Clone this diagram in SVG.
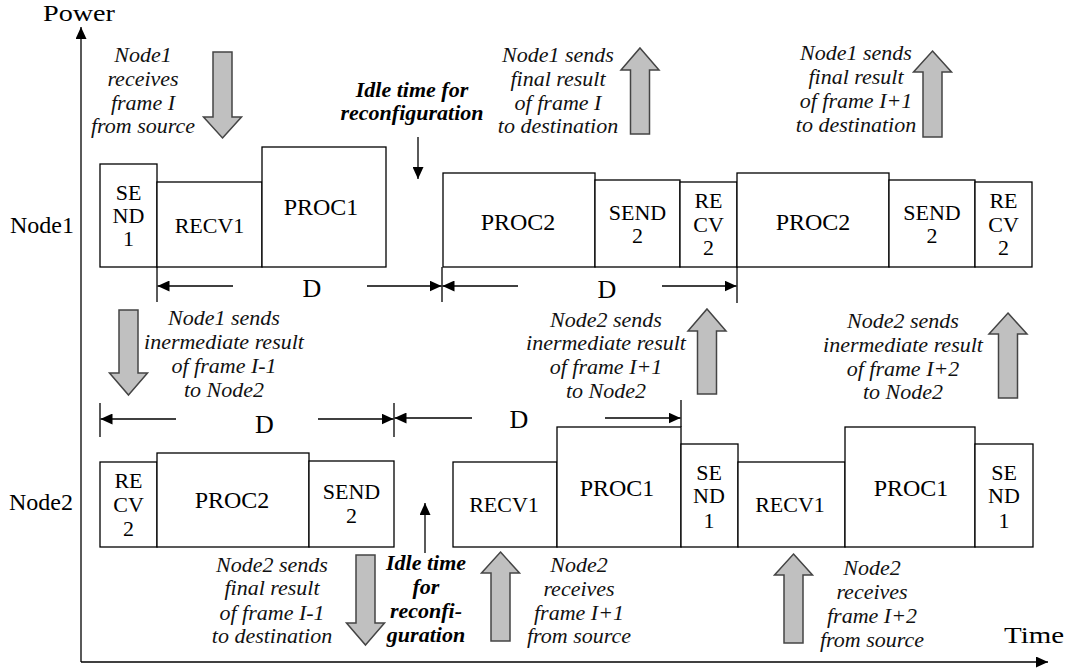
<svg xmlns="http://www.w3.org/2000/svg" width="1067" height="670" viewBox="0 0 1067 670">
<style>
  .bg{fill:#fff}
  .box{fill:#fff;stroke:#000;stroke-width:1.3}
  .t{font-family:"Liberation Serif","Times New Roman",serif;font-size:22px;fill:#000;text-anchor:middle}
  .tp{font-family:"Liberation Serif","Times New Roman",serif;font-size:24px;fill:#000;text-anchor:middle}
  .ax{font-family:"Liberation Serif","Times New Roman",serif;font-size:24px;fill:#000}
  .d{font-family:"Liberation Serif","Times New Roman",serif;font-size:26px;fill:#000;text-anchor:middle}
  .it{font-family:"Liberation Serif","Times New Roman",serif;font-size:22px;font-style:italic;fill:#111;text-anchor:middle}
  .bi{font-family:"Liberation Serif","Times New Roman",serif;font-size:22px;font-style:italic;font-weight:bold;fill:#000;text-anchor:middle}
  .ln{stroke:#000;stroke-width:1.3;fill:none}
  .arr{stroke:#000;stroke-width:1.3;fill:none;marker-end:url(#ah)}
  .blk{fill:#c0c0c0;stroke:#444;stroke-width:1.5;stroke-linejoin:miter}
</style>
<defs>
  <marker id="ah" markerUnits="userSpaceOnUse" markerWidth="12" markerHeight="11" refX="12" refY="5.5" orient="auto">
    <path d="M0,0 L12,5.5 L0,11 Z" fill="#000"/>
  </marker>
</defs>
<rect class="bg" x="0" y="0" width="1067" height="670"/>

<g id="axes">
  <line class="arr" x1="81" y1="662" x2="81" y2="27"/>
  <line class="arr" x1="81" y1="662" x2="1048" y2="662"/>
  <text class="ax" x="43" y="21" textLength="72" lengthAdjust="spacingAndGlyphs">Power</text>
  <text class="ax" x="1004" y="643" font-size="23" textLength="60" lengthAdjust="spacingAndGlyphs">Time</text>
  <text class="ax" x="10" y="233">Node1</text>
  <text class="ax" x="9" y="510">Node2</text>
</g>

<!-- Node1 row -->
<g id="n1-send1"><rect class="box" x="100" y="164" width="57" height="103"/>
  <text class="t" x="128.5" y="200">SE</text><text class="t" x="128.5" y="223">ND</text><text class="t" x="128.5" y="246">1</text></g>
<g id="n1-recv1"><rect class="box" x="157" y="182" width="105" height="85"/>
  <text class="t" x="209.5" y="233">RECV1</text></g>
<g id="n1-proc1"><rect class="box" x="262" y="147" width="124" height="120"/>
  <text class="tp" x="321" y="215">PROC1</text></g>
<g id="n1-proc2a"><rect class="box" x="443" y="173" width="152" height="94"/>
  <text class="tp" x="518" y="230">PROC2</text></g>
<g id="n1-send2a"><rect class="box" x="595" y="180" width="85" height="87"/>
  <text class="t" x="637.5" y="220">SEND</text><text class="t" x="637.5" y="243">2</text></g>
<g id="n1-recv2a"><rect class="box" x="680" y="182" width="57" height="85"/>
  <text class="t" x="708.5" y="208">RE</text><text class="t" x="708.5" y="232">CV</text><text class="t" x="708.5" y="255">2</text></g>
<g id="n1-proc2b"><rect class="box" x="737" y="173" width="152" height="94"/>
  <text class="tp" x="813" y="230">PROC2</text></g>
<g id="n1-send2b"><rect class="box" x="889" y="180" width="86" height="87"/>
  <text class="t" x="932" y="220">SEND</text><text class="t" x="932" y="243">2</text></g>
<g id="n1-recv2b"><rect class="box" x="975" y="182" width="57" height="85"/>
  <text class="t" x="1003.5" y="208">RE</text><text class="t" x="1003.5" y="232">CV</text><text class="t" x="1003.5" y="255">2</text></g>

<!-- Node2 row -->
<g id="n2-recv2"><rect class="box" x="100" y="462" width="57" height="85"/>
  <text class="t" x="128.5" y="488">RE</text><text class="t" x="128.5" y="512">CV</text><text class="t" x="128.5" y="536">2</text></g>
<g id="n2-proc2"><rect class="box" x="157" y="453" width="152" height="94"/>
  <text class="tp" x="232" y="508">PROC2</text></g>
<g id="n2-send2"><rect class="box" x="309" y="461" width="85" height="86"/>
  <text class="t" x="351.5" y="499">SEND</text><text class="t" x="351.5" y="523">2</text></g>
<g id="n2-recv1a"><rect class="box" x="453" y="462" width="104" height="85"/>
  <text class="t" x="504" y="512">RECV1</text></g>
<g id="n2-proc1a"><rect class="box" x="557" y="427" width="124" height="120"/>
  <text class="tp" x="617" y="496">PROC1</text></g>
<g id="n2-send1a"><rect class="box" x="681" y="444" width="57" height="103"/>
  <text class="t" x="709" y="480">SE</text><text class="t" x="709" y="503">ND</text><text class="t" x="709" y="528">1</text></g>
<g id="n2-recv1b"><rect class="box" x="738" y="462" width="107" height="85"/>
  <text class="t" x="790" y="512">RECV1</text></g>
<g id="n2-proc1b"><rect class="box" x="845" y="427" width="130" height="120"/>
  <text class="tp" x="911" y="496">PROC1</text></g>
<g id="n2-send1b"><rect class="box" x="975" y="444" width="58" height="103"/>
  <text class="t" x="1004" y="480">SE</text><text class="t" x="1004" y="503">ND</text><text class="t" x="1004" y="528">1</text></g>

<g id="connectors">
  <!-- D dimensions row 1 -->
  <line class="ln" x1="157" y1="267" x2="157" y2="302"/>
  <line class="ln" x1="442" y1="267" x2="442" y2="302"/>
  <line class="ln" x1="737" y1="267" x2="737" y2="303"/>
  <line class="arr" x1="233" y1="286" x2="157.5" y2="286"/>
  <line class="arr" x1="367" y1="286" x2="441.5" y2="286"/>
  <line class="arr" x1="518" y1="286" x2="442.5" y2="286"/>
  <line class="arr" x1="662" y1="286" x2="736.5" y2="286"/>
  <!-- D dimensions row 2 -->
  <line class="ln" x1="100" y1="403" x2="100" y2="437"/>
  <line class="ln" x1="394" y1="403" x2="394" y2="437"/>
  <line class="ln" x1="681" y1="400" x2="681" y2="427"/>
  <line class="arr" x1="176" y1="419" x2="100.5" y2="419"/>
  <line class="arr" x1="318" y1="419" x2="393.5" y2="419"/>
  <line class="arr" x1="472" y1="418" x2="394.5" y2="418"/>
  <line class="arr" x1="605" y1="418" x2="680.5" y2="418"/>
  <!-- idle arrows -->
  <line class="arr" x1="418" y1="137" x2="418" y2="179"/>
  <line class="arr" x1="425" y1="553" x2="425" y2="503"/>
  <!-- block arrows -->
  <polygon class="blk" points="222.5,138 241.5,117 232,117 232,52 213,52 213,117 203.5,117"/>
  <polygon class="blk" points="640,48 659,70 649.5,70 649.5,134 630.5,134 630.5,70 621,70"/>
  <polygon class="blk" points="932.5,51 951.5,72 942,72 942,137 923,137 923,72 913.5,72"/>
  <polygon class="blk" points="128.5,395 147.5,373 138,373 138,310 119,310 119,373 109.5,373"/>
  <polygon class="blk" points="707,309 726,331 716.5,331 716.5,394 697.5,394 697.5,331 688,331"/>
  <polygon class="blk" points="1008,313 1027,334 1017.5,334 1017.5,398 998.5,398 998.5,334 989,334"/>
  <polygon class="blk" points="365.5,645 384.5,623 375,623 375,555 356,555 356,623 346.5,623"/>
  <polygon class="blk" points="500.5,552 519.5,573 510,573 510,641 491,641 491,573 481.5,573"/>
  <polygon class="blk" points="793.5,554 812.5,575 803,575 803,643 784,643 784,575 774.5,575"/>
</g>

<g id="labels">
  <text class="d" x="312" y="297">D</text>
  <text class="d" x="607" y="298">D</text>
  <text class="d" x="264.5" y="433">D</text>
  <text class="d" x="519" y="428">D</text>

  <text class="bi" x="412"><tspan x="412" y="97">Idle time for</tspan><tspan x="412" y="120">reconfiguration</tspan></text>
  <text class="bi"><tspan x="426" y="570">Idle time</tspan><tspan x="426" y="594">for</tspan><tspan x="426" y="618">reconfi-</tspan><tspan x="426" y="642">guration</tspan></text>

  <text class="it"><tspan x="143" y="62">Node1</tspan><tspan x="143" y="86">receives</tspan><tspan x="143" y="110">frame I</tspan><tspan x="143" y="133">from source</tspan></text>
  <text class="it"><tspan x="558" y="62">Node1 sends</tspan><tspan x="558" y="86">final result</tspan><tspan x="558" y="110">of frame I</tspan><tspan x="558" y="133">to destination</tspan></text>
  <text class="it"><tspan x="856" y="60">Node1 sends</tspan><tspan x="856" y="84">final result</tspan><tspan x="856" y="108">of frame I+1</tspan><tspan x="856" y="132">to destination</tspan></text>
  <text class="it"><tspan x="224" y="325">Node1 sends</tspan><tspan x="224" y="349">inermediate result</tspan><tspan x="224" y="373">of frame I-1</tspan><tspan x="224" y="397">to Node2</tspan></text>
  <text class="it"><tspan x="606" y="327">Node2 sends</tspan><tspan x="606" y="350">inermediate result</tspan><tspan x="606" y="374">of frame I+1</tspan><tspan x="606" y="398">to Node2</tspan></text>
  <text class="it"><tspan x="903" y="328">Node2 sends</tspan><tspan x="903" y="352">inermediate result</tspan><tspan x="903" y="376">of frame I+2</tspan><tspan x="903" y="399">to Node2</tspan></text>
  <text class="it"><tspan x="272" y="572">Node2 sends</tspan><tspan x="272" y="595">final result</tspan><tspan x="272" y="620">of frame I-1</tspan><tspan x="272" y="643">to destination</tspan></text>
  <text class="it"><tspan x="579" y="572">Node2</tspan><tspan x="579" y="596">receives</tspan><tspan x="579" y="620">frame I+1</tspan><tspan x="579" y="643">from source</tspan></text>
  <text class="it"><tspan x="872" y="575">Node2</tspan><tspan x="872" y="599">receives</tspan><tspan x="872" y="623">frame I+2</tspan><tspan x="872" y="647">from source</tspan></text>
</g>
</svg>
